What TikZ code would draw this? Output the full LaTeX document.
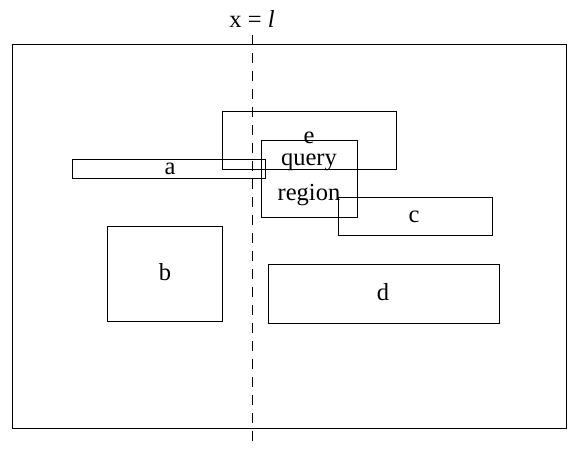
\documentclass[tikz,border=0pt]{standalone}
\usepackage{fontspec}
\setmainfont{Liberation Serif}
\begin{document}
\begin{tikzpicture}[x=1pt,y=-1pt,
  box/.style={draw, line width=0.9pt, inner sep=0pt, minimum width=#1},
  lab/.style={font=\fontsize{24.5}{28}\selectfont, inner sep=0pt, anchor=base}]
\useasboundingbox (0,0) rectangle (578,448);
\node[box=554pt, minimum height=384pt] (outer) at (289,236) {};
\coordinate (top) at (252,35);
\coordinate (bot) at (252,448);
\draw[line width=0.9pt, dash pattern=on 10pt off 8pt] (top) -- (bot);
\node[lab] (xl) at (252,27) {x = \textit{l}};
\node[box=193pt, minimum height=19pt] (a) at (168.5,168.5) {};
\node[lab] (al) at (170,174) {a};
\node[box=174pt, minimum height=58pt] (e) at (309,140) {};
\node[lab] (el) at (309,143) {e};
\node[box=96pt, minimum height=77pt] (q) at (309,178.5) {};
\node[lab] (q1) at (309,165) {query};
\node[lab] (q2) at (309,200) {region};
\node[box=154pt, minimum height=38pt] (c) at (415,216.5) {};
\node[lab] (cl) at (414,222) {c};
\node[box=115pt, minimum height=95pt] (b) at (164.5,273.5) {};
\node[lab] (bl) at (165,280) {b};
\node[box=231pt, minimum height=59pt] (d) at (383.5,293.5) {};
\node[lab] (dl) at (383,300) {d};
\end{tikzpicture}
\end{document}
